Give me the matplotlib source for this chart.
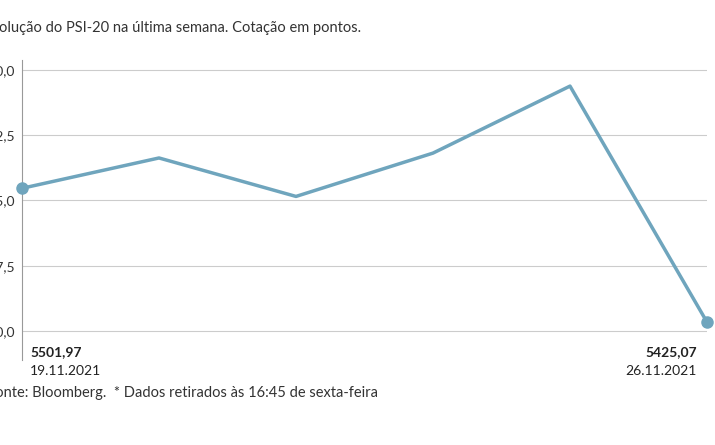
import matplotlib
matplotlib.use("Agg")
import matplotlib.pyplot as plt

days = [0, 1, 2, 3, 4, 5]
values = [5501.97, 5519.4, 5497.3, 5522.2, 5560.7, 5425.07]
yticks = [5420.0, 5457.5, 5495.0, 5532.5, 5570.0]
ytick_labels = ["5420,0", "5457,5", "5495,0", "5532,5", "5570,0"]

plt.rcParams['font.family'] = ['Lato', 'DejaVu Sans']
fig = plt.figure(figsize=(7.15, 4.45), dpi=100)
ax = fig.add_axes([22/715, 85/445, 685/715, 300/445])
color = "#6fa5bd"
ax.plot(days, values, color=color, lw=2.5, clip_on=False, zorder=3)
ax.plot([days[0], days[-1]], [values[0], values[-1]], 'o', color=color, ms=8, clip_on=False, zorder=4)
ax.set_xlim(0, 5)
ax.set_ylim(5403.3, 5575.7)
ax.set_yticks(yticks)
ax.set_yticklabels(ytick_labels, fontsize=10, color="#333333")
ax.tick_params(axis='y', length=0, pad=5)
ax.set_xticks([])
ax.grid(axis='y', color="#cccccc", lw=0.8)
for s in ['top', 'right', 'bottom']:
    ax.spines[s].set_visible(False)
ax.spines['left'].set_color("#999999")

ax.annotate("5501,97", (0, 0), xycoords=ax.transAxes, xytext=(8, 8), textcoords='offset pixels',
            fontsize=10, fontweight='bold', color="#222222", va='center')
ax.annotate("19.11.2021", (0, 0), xycoords=ax.transAxes, xytext=(8, -11), textcoords='offset pixels',
            fontsize=10, color="#222222", va='center')
ax.annotate("5425,07", (1, 0), xycoords=ax.transAxes, xytext=(-10, 8), textcoords='offset pixels',
            fontsize=10, fontweight='bold', color="#222222", va='center', ha='right')
ax.annotate("26.11.2021", (1, 0), xycoords=ax.transAxes, xytext=(-10, -11), textcoords='offset pixels',
            fontsize=10, color="#222222", va='center', ha='right')

fig.text(-17/715, 1 - 28/445, "Evolução do PSI-20 na última semana. Cotação em pontos.",
         fontsize=10.5, color="#333333", va='center')
fig.text(-13/715, 1 - 393/445, "Fonte: Bloomberg.  * Dados retirados às 16:45 de sexta-feira",
         fontsize=10.5, color="#333333", va='center')
fig.savefig("out.png", dpi=100)
